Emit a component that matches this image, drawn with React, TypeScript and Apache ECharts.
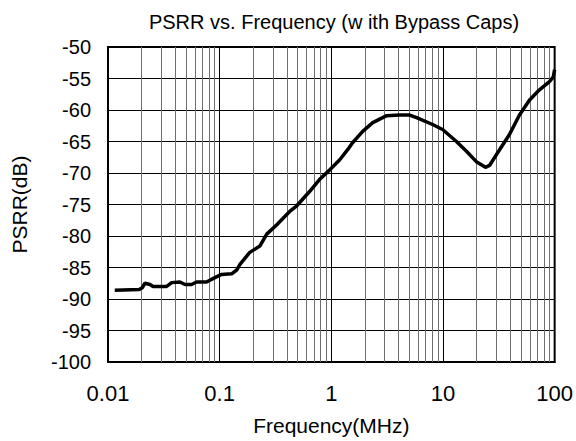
import React, { useEffect, useRef } from "react";
import * as echarts from "echarts";

const TITLE = "PSRR vs. Frequency (w ith Bypass Caps)";
const X_NAME = "Frequency(MHz)";
const Y_NAME = "PSRR(dB)";

const freqMHz = [
  0.0115, 0.019, 0.0203, 0.0214, 0.0238, 0.0253, 0.0335, 0.0372, 0.0441, 0.0489,
  0.0561, 0.0621, 0.0763, 0.0906, 0.104, 0.128, 0.142, 0.152, 0.186, 0.229,
  0.264, 0.325, 0.424, 0.491, 0.641, 0.787, 0.969, 1.19, 1.4, 1.55,
  1.91, 2.35, 3.13, 4.09, 5.03, 5.8, 8.07, 9.92, 13.2, 16.3,
  19.9, 24.0, 26.1, 32.1, 39.4, 48.4, 59.6, 73.1, 89.8, 97.0, 100,
];
const psrrDb = [
  -88.6, -88.5, -88.2, -87.5, -87.7, -88.0, -88.0, -87.4, -87.3, -87.7,
  -87.7, -87.3, -87.3, -86.6, -86.1, -86.0, -85.4, -84.5, -82.6, -81.6,
  -79.7, -78.2, -76.1, -75.2, -72.9, -71.0, -69.5, -67.9, -66.3, -65.2,
  -63.4, -62.0, -60.9, -60.8, -60.8, -61.2, -62.3, -63.1, -65.0, -66.6,
  -68.2, -69.1, -68.8, -66.3, -63.9, -60.8, -58.4, -56.8, -55.5, -54.8, -53.6,
];

const minorGridFreqs = [
  0.02, 0.03, 0.04, 0.05, 0.06, 0.07, 0.08, 0.09,
  0.2, 0.3, 0.4, 0.5, 0.6, 0.7, 0.8, 0.9,
  2, 3, 4, 5, 6, 7, 8, 9,
  20, 30, 40, 50, 60, 70, 80, 90,
];

const X_MIN = 0.01;
const X_MAX = 100;
const Y_MIN = -100;
const Y_MAX = -50;
const Y_STEP = 5;

const FONT = "'Liberation Sans', Arial, sans-serif";

export default function App() {
  const ref = useRef<HTMLDivElement>(null);

  useEffect(() => {
    document.body.style.margin = "0";
    if (!ref.current) return;
    const chart = echarts.init(ref.current, null, { renderer: "svg" });
    const data = freqMHz.map((f, i) => [f, psrrDb[i]]);
    chart.setOption({
      animation: false,
      backgroundColor: "#fff",
      textStyle: { fontFamily: FONT },
      title: {
        text: TITLE,
        left: 329,
        top: 7,
        textAlign: "center",
        textStyle: { fontFamily: FONT, fontSize: 20, fontWeight: "normal", color: "#000" },
      },
      grid: {
        left: 108,
        right: 21,
        top: 47,
        bottom: 78,
        show: true,
        borderColor: "#000",
        borderWidth: 2,
        backgroundColor: "#fff",
      },
      xAxis: {
        type: "log",
        logBase: 10,
        min: X_MIN,
        max: X_MAX,
        name: X_NAME,
        nameLocation: "middle",
        nameGap: 53,
        nameTextStyle: { fontFamily: FONT, fontSize: 21, color: "#000" },
        axisLine: { show: true, lineStyle: { color: "#000", width: 2 } },
        axisTick: { show: false },
        axisLabel: {
          fontFamily: FONT,
          fontSize: 22,
          color: "#000",
          margin: 20,
          formatter: (v: number) => String(Number(v.toPrecision(3))),
        },
        splitLine: { show: true, lineStyle: { color: "#000", width: 1 } },
        minorTick: { show: false },
        minorSplitLine: { show: false },
      },
      yAxis: {
        type: "value",
        min: Y_MIN,
        max: Y_MAX,
        interval: Y_STEP,
        name: Y_NAME,
        nameLocation: "middle",
        nameGap: 78,
        nameRotate: 90,
        nameTextStyle: { fontFamily: FONT, fontSize: 21, color: "#000" },
        axisLine: { show: true, lineStyle: { color: "#000", width: 2 } },
        axisTick: { show: false },
        axisLabel: { fontFamily: FONT, fontSize: 20, color: "#000", margin: 17 },
        splitLine: { show: true, lineStyle: { color: "#000", width: 1 } },
      },
      series: [
        {
          type: "line",
          name: "minorGrid",
          z: 1,
          silent: true,
          symbol: "none",
          data: [[X_MIN, Y_MIN]],
          lineStyle: { opacity: 0 },
          markLine: {
            silent: true,
            symbol: "none",
            label: { show: false },
            lineStyle: { color: "#6e6e6e", width: 1, type: "solid" },
            data: minorGridFreqs.map((f) => ({ xAxis: f })),
          },
        },
        {
          type: "line",
          name: "PSRR",
          z: 5,
          data,
          symbol: "none",
          smooth: false,
          lineStyle: { color: "#000", width: 3.5 },
        },
      ],
    });
    return () => chart.dispose();
  }, []);

  return <div ref={ref} style={{ width: 576, height: 441 }} />;
}
